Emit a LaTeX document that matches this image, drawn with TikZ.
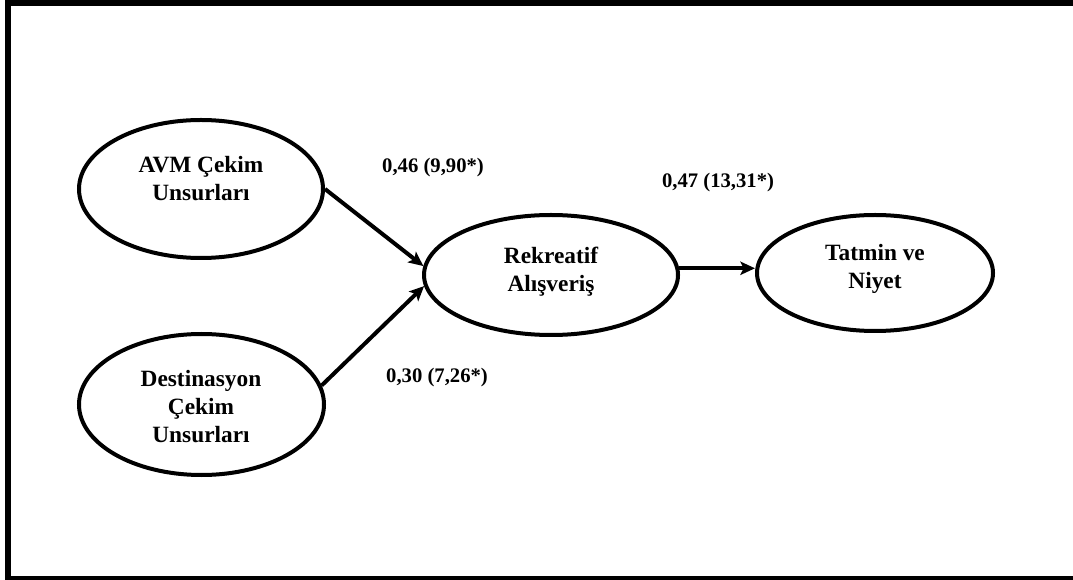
\documentclass[tikz,border=0pt]{standalone}
\usepackage{fontspec}
\setmainfont{Liberation Serif}
\usetikzlibrary{shapes.geometric,arrows.meta}
\begin{document}
\begin{tikzpicture}[x=0.75pt,y=-0.75pt,
  construct/.style={ellipse, draw, line width=3pt, inner sep=0pt},
  ctext/.style={align=center, inner sep=0pt,
    font=\fontsize{17.5}{21}\selectfont\bfseries},
  link/.style={line width=3pt, -{Stealth[length=11pt,width=10pt,inset=2.5pt]}},
  coef/.style={inner sep=0pt, font=\fontsize{15.5}{18}\selectfont\bfseries}]
\useasboundingbox (0,0) rectangle (1073,580);
\clip (0,0) rectangle (1073,580);

% outer frame
\draw[line width=4.5pt] (8,3) rectangle (1080,579);

% constructs
\node[construct, minimum width=183pt, minimum height=103.5pt] (avm) at (201,189) {};
\node[ctext] (avmt) at (201,179) {AVM Çekim\\Unsurları};

\node[construct, minimum width=183.75pt, minimum height=105.75pt] (dest) at (201.5,404.5) {};
\node[ctext] (destt) at (201,407) {Destinasyon\\Çekim\\Unsurları};

\node[construct, minimum width=190.5pt, minimum height=90pt] (rek) at (551,275) {};
\node[ctext] (rekt) at (551,272) {Rekreatif\\Alışveriş};

\node[construct, minimum width=177pt, minimum height=87pt] (tat) at (875,273) {};
\node[ctext] (tatt) at (875,269) {Tatmin ve\\Niyet};

% paths
\draw[link] (avm.east) -- (rek.176);
\draw[link] (dest.9) -- (rek.185);
\draw[link] (rek.3) -- (rek.3 -| tat.west);

% path coefficients
\node[coef] (c1) at (433,168) {0,46 (9,90*)};
\node[coef] (c2) at (718,183) {0,47 (13,31*)};
\node[coef] (c3) at (437,378) {0,30 (7,26*)};
\end{tikzpicture}
\end{document}
